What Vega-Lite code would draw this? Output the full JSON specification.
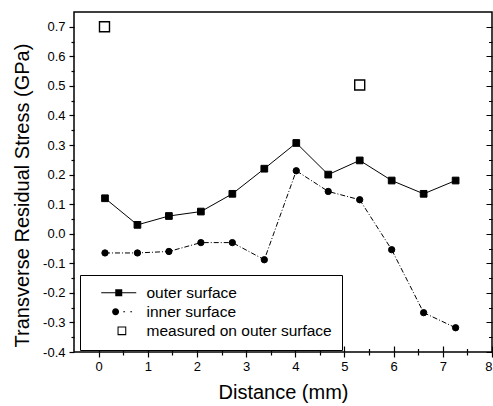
{
  "$schema": "https://vega.github.io/schema/vega-lite/v6.json",
  "width": 418,
  "height": 340,
  "autosize": {"type": "none"},
  "padding": {"left": 74, "top": 12, "right": 1, "bottom": 54},
  "background": "white",
  "config": {
    "view": {"stroke": "black", "strokeWidth": 1.5},
    "font": "Liberation Sans",
    "axis": {
      "labelFont": "Liberation Sans",
      "titleFont": "Liberation Sans",
      "labelColor": "black",
      "titleColor": "black",
      "tickColor": "black",
      "domain": false,
      "titleFontWeight": "normal",
      "tickWidth": 1.2,
      "gridColor": "black",
      "gridOpacity": 1,
      "gridWidth": 1.2,
      "labelOverlap": false
    }
  },
  "data": {
    "values": [
      {"series": "outer surface", "distance": 0.13, "stress": 0.12},
      {"series": "outer surface", "distance": 0.79, "stress": 0.03},
      {"series": "outer surface", "distance": 1.43, "stress": 0.06},
      {"series": "outer surface", "distance": 2.08, "stress": 0.075},
      {"series": "outer surface", "distance": 2.72, "stress": 0.135},
      {"series": "outer surface", "distance": 3.37, "stress": 0.22},
      {"series": "outer surface", "distance": 4.02, "stress": 0.307},
      {"series": "outer surface", "distance": 4.67, "stress": 0.2},
      {"series": "outer surface", "distance": 5.31, "stress": 0.248},
      {"series": "outer surface", "distance": 5.96, "stress": 0.18},
      {"series": "outer surface", "distance": 6.61, "stress": 0.135},
      {"series": "outer surface", "distance": 7.26, "stress": 0.18},
      {"series": "inner surface", "distance": 0.13, "stress": -0.065},
      {"series": "inner surface", "distance": 0.79, "stress": -0.065},
      {"series": "inner surface", "distance": 1.43, "stress": -0.06},
      {"series": "inner surface", "distance": 2.08, "stress": -0.03},
      {"series": "inner surface", "distance": 2.72, "stress": -0.03},
      {"series": "inner surface", "distance": 3.37, "stress": -0.088},
      {"series": "inner surface", "distance": 4.02, "stress": 0.213},
      {"series": "inner surface", "distance": 4.67, "stress": 0.143},
      {"series": "inner surface", "distance": 5.31, "stress": 0.115},
      {"series": "inner surface", "distance": 5.96, "stress": -0.054},
      {"series": "inner surface", "distance": 6.61, "stress": -0.267},
      {"series": "inner surface", "distance": 7.26, "stress": -0.318},
      {"series": "measured on outer surface", "distance": 0.12, "stress": 0.7},
      {"series": "measured on outer surface", "distance": 5.31, "stress": 0.503}
    ]
  },
  "layer": [
    {
      "transform": [{"filter": "datum.series === 'outer surface'"}],
      "mark": {"type": "line", "color": "black", "strokeWidth": 1},
      "encoding": {
        "x": {
          "field": "distance", "type": "quantitative",
          "scale": {"domain": [-0.5, 8], "nice": false, "zero": false},
          "axis": {
            "orient": "bottom",
            "values": [0, 0.5, 1, 1.5, 2, 2.5, 3, 3.5, 4, 4.5, 5, 5.5, 6, 6.5, 7, 7.5, 8],
            "labelExpr": "datum.value % 1 === 0 ? format(datum.value, 'd') : ''",
            "tickSize": {"condition": {"test": "datum.value % 1 === 0", "value": 5}, "value": 3},
            "grid": true,
            "gridDash": {"condition": {"test": "datum.value % 1 === 0", "value": [0, 334, 6, 2000]}, "value": [0, 336.5, 3.5, 2000]},
            "labelFontSize": 13,
            "labelPadding": 3,
            "title": "Distance (mm)",
            "titleFontSize": 20,
            "titleX": 209,
            "titleY": 46,
            "titleAlign": "center",
            "titleBaseline": "alphabetic"
          }
        },
        "y": {
          "field": "stress", "type": "quantitative",
          "scale": {"domain": [-0.4, 0.75], "nice": false, "zero": false},
          "axis": {
            "orient": "left",
            "values": [-0.4, -0.35, -0.3, -0.25, -0.2, -0.15, -0.1, -0.05, 0, 0.05, 0.1, 0.15, 0.2, 0.25, 0.3, 0.35, 0.4, 0.45, 0.5, 0.55, 0.6, 0.65, 0.7],
            "labelExpr": "round(datum.value * 20) % 2 === 0 ? replace(format(datum.value, '.1f'), '\u2212', '-') : ''",
            "tickSize": {"condition": {"test": "round(datum.value * 20) % 2 === 0", "value": 5}, "value": 3},
            "grid": true,
            "gridDash": {"condition": {"test": "round(datum.value * 20) % 2 === 0", "value": [0, 412, 6, 2000]}, "value": [0, 414.5, 3.5, 2000]},
            "labelFontSize": 13,
            "labelPadding": 4,
            "title": "Transverse Residual Stress (GPa)",
            "titleFontSize": 20,
            "titleX": -52,
            "titleY": 183,
            "titleAngle": 270,
            "titleAlign": "center",
            "titleBaseline": "middle"
          }
        }
      }
    },
    {
      "transform": [{"filter": "datum.series === 'inner surface'"}],
      "mark": {"type": "line", "color": "black", "strokeWidth": 1, "strokeDash": [5, 2, 1, 2]},
      "encoding": {
        "x": {"field": "distance", "type": "quantitative", "axis": null},
        "y": {"field": "stress", "type": "quantitative", "axis": null}
      }
    },
    {
      "transform": [{"filter": "datum.series === 'outer surface'"}],
      "mark": {"type": "point", "shape": "square", "filled": true, "fill": "black", "stroke": "black", "strokeWidth": 1, "opacity": 1, "size": 45},
      "encoding": {
        "x": {"field": "distance", "type": "quantitative", "axis": null},
        "y": {"field": "stress", "type": "quantitative", "axis": null}
      }
    },
    {
      "transform": [{"filter": "datum.series === 'inner surface'"}],
      "mark": {"type": "point", "shape": "circle", "filled": true, "fill": "black", "stroke": "black", "strokeWidth": 1, "opacity": 1, "size": 40},
      "encoding": {
        "x": {"field": "distance", "type": "quantitative", "axis": null},
        "y": {"field": "stress", "type": "quantitative", "axis": null}
      }
    },
    {
      "transform": [{"filter": "datum.series === 'measured on outer surface'"}],
      "mark": {"type": "point", "shape": "square", "filled": true, "fill": "white", "stroke": "black", "strokeWidth": 1.4, "opacity": 1, "size": 100},
      "encoding": {
        "x": {"field": "distance", "type": "quantitative", "axis": null},
        "y": {"field": "stress", "type": "quantitative", "axis": null}
      }
    },
    {
      "transform": [{"filter": "false"}],
      "mark": {"type": "point", "filled": true, "color": "black", "fill": "black", "opacity": 1},
      "encoding": {
        "shape": {
          "field": "series", "type": "nominal",
          "scale": {
            "domain": ["outer surface", "inner surface", "measured on outer surface"],
            "range": [
              "M-5,-0.15H5V0.15H-5ZM-1,-1H1V1H-1Z",
              "M0.1,0A1,1 0 1,1 -1.9,0A1,1 0 1,1 0.1,0ZM1.3,-0.15H1.8V0.15H1.3ZM3.3,-0.15H3.8V0.15H3.3Z",
              "M-0.35,-1.25H2.15V1.25H-0.35ZM-0.05,-0.95V0.95H1.85V-0.95Z"
            ]
          },
          "legend": {
            "title": null,
            "orient": "none",
            "direction": "vertical",
            "legendX": 6,
            "legendY": 263,
            "padding": 10,
            "strokeColor": "black",
            "fillColor": "white",
            "labelFont": "Liberation Sans",
            "labelFontSize": 15.5,
            "labelColor": "black",
            "labelLimit": 400,
            "symbolSize": 49,
            "symbolOffset": 21,
            "labelOffset": 20,
            "rowPadding": 2,
            "symbolFillColor": "black",
            "symbolOpacity": 1
          }
        }
      }
    }
  ],
  "resolve": {"axis": {"x": "independent", "y": "independent"}}
}
